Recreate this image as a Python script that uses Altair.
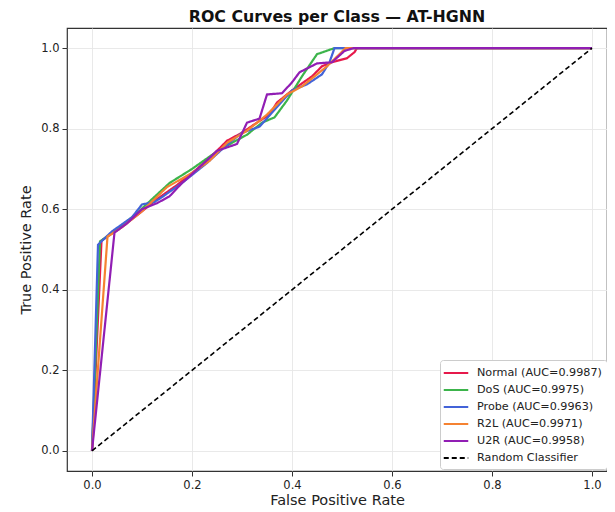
import altair as alt
import pandas as pd

# ---- data ----
classes = ["Normal", "DoS", "Probe", "R2L", "U2R"]
auc = [0.9987, 0.9975, 0.9963, 0.9971, 0.9958]
colors = ["#e6194b", "#3cb44b", "#4363d8", "#f58231", "#911eb4"]

normal_fpr = [0, 0.019, 0.05, 0.09, 0.13, 0.17, 0.21, 0.25, 0.27, 0.30, 0.33, 0.355, 0.37, 0.40, 0.44, 0.46, 0.48, 0.51, 0.525, 0.53, 1.0]
normal_tpr = [0, 0.522, 0.548, 0.585, 0.625, 0.66, 0.70, 0.745, 0.77, 0.79, 0.815, 0.835, 0.865, 0.895, 0.93, 0.955, 0.965, 0.975, 0.99, 1.0, 1.0]

dos_fpr = [0, 0.016, 0.05, 0.09, 0.12, 0.155, 0.20, 0.24, 0.28, 0.31, 0.34, 0.365, 0.39, 0.42, 0.45, 0.485, 1.0]
dos_tpr = [0, 0.52, 0.55, 0.59, 0.625, 0.665, 0.70, 0.735, 0.765, 0.785, 0.815, 0.828, 0.87, 0.93, 0.985, 1.0, 1.0]

probe_fpr = [0, 0.012, 0.04, 0.08, 0.10, 0.125, 0.14, 0.18, 0.23, 0.27, 0.30, 0.335, 0.36, 0.40, 0.43, 0.46, 0.475, 0.485, 0.51, 1.0]
probe_tpr = [0, 0.512, 0.545, 0.58, 0.612, 0.618, 0.63, 0.665, 0.715, 0.76, 0.79, 0.805, 0.84, 0.895, 0.91, 0.935, 0.965, 1.0, 1.0, 1.0]

r2l_fpr = [0, 0.031, 0.06, 0.10, 0.15, 0.20, 0.235, 0.27, 0.31, 0.35, 0.39, 0.42, 0.44, 0.47, 0.495, 0.507, 1.0]
r2l_tpr = [0, 0.532, 0.555, 0.595, 0.655, 0.69, 0.72, 0.765, 0.795, 0.835, 0.885, 0.905, 0.925, 0.955, 0.985, 1.0, 1.0]

u2r_fpr = [0, 0.045, 0.07, 0.10, 0.13, 0.155, 0.18, 0.22, 0.25, 0.29, 0.31, 0.335, 0.35, 0.38, 0.40, 0.415, 0.45, 0.48, 0.505, 0.523, 1.0]
u2r_tpr = [0, 0.542, 0.565, 0.6, 0.615, 0.632, 0.665, 0.71, 0.745, 0.762, 0.815, 0.825, 0.885, 0.888, 0.915, 0.94, 0.962, 0.965, 0.993, 1.0, 1.0]

random_fpr = [0.0, 1.0]
random_tpr = [0.0, 1.0]

tick_values = [0.0, 0.2, 0.4, 0.6, 0.8, 1.0]

# ---- build table ----
series_fpr = [normal_fpr, dos_fpr, probe_fpr, r2l_fpr, u2r_fpr]
series_tpr = [normal_tpr, dos_tpr, probe_tpr, r2l_tpr, u2r_tpr]
labels = [f"{c} (AUC={a:.4f})" for c, a in zip(classes, auc)]
rand_label = "Random Classifier"

rows = []
for lab, fx, ty in zip(labels, series_fpr, series_tpr):
    for i, (a, b) in enumerate(zip(fx, ty)):
        rows.append({"series": lab, "fpr": a, "tpr": b, "idx": i})
df = pd.DataFrame(rows)
df_rand = pd.DataFrame({"series": rand_label, "fpr": random_fpr, "tpr": random_tpr, "idx": [0, 1]})

domain = labels + [rand_label]
color_scale = alt.Scale(domain=domain, range=colors + ["#000000"])
dash_scale = alt.Scale(domain=domain, range=[[1, 0]] * 5 + [[5, 3]])

legend = alt.Legend(
    title=None, orient="none", legendX=373, legendY=332,
    symbolType="M-1.75,0L1.75,0", symbolSize=196, symbolStrokeWidth=2,
    symbolOffset=3, labelOffset=13,
    labelFontSize=11.2, labelFont="DejaVu Sans", labelColor="#222",
    rowPadding=3, padding=5, fillColor="white", strokeColor="#cccccc",
    cornerRadius=3, labelLimit=300,
)

x_enc = alt.X("fpr:Q", scale=alt.Scale(domain=[-0.05, 1.03], nice=False, zero=False),
              axis=alt.Axis(values=tick_values, format=".1f", title="False Positive Rate"))
y_enc = alt.Y("tpr:Q", scale=alt.Scale(domain=[-0.05, 1.05], nice=False, zero=False),
              axis=alt.Axis(values=tick_values, format=".1f", title="True Positive Rate"))

lines = alt.Chart(df).mark_line(strokeWidth=2.2, clip=True).encode(
    x=x_enc, y=y_enc,
    color=alt.Color("series:N", scale=color_scale, legend=legend),
    strokeDash=alt.StrokeDash("series:N", scale=dash_scale, legend=legend),
    order=alt.Order("idx:Q"),
)

diag = alt.Chart(df_rand).mark_line(strokeWidth=1.6).encode(
    x=x_enc, y=y_enc,
    color=alt.Color("series:N", scale=color_scale, legend=legend),
    strokeDash=alt.StrokeDash("series:N", scale=dash_scale, legend=legend),
    order=alt.Order("idx:Q"),
)

chart = alt.layer(lines, diag).properties(
    width=540, height=443,
    title=alt.TitleParams("ROC Curves per Class — AT-HGNN", fontSize=15.8, fontWeight="bold",
                          font="DejaVu Sans", anchor="middle", offset=2, color="#111"),
    autosize=alt.AutoSizeParams(type="none"),
    padding={"left": 59, "top": 20, "right": 0, "bottom": 41},
).configure_view(
    stroke="#333333", strokeWidth=1.2,
).configure_axis(
    domain=False, grid=True, gridColor="#e6e6e6", gridWidth=0.9,
    ticks=True, tickSize=5, tickColor="#333333", tickWidth=1,
    labelFont="DejaVu Sans", labelFontSize=11.5, labelColor="#222",
    titleFont="DejaVu Sans", titleFontSize=14.5, titleFontWeight="normal", titleColor="#222",
    labelPadding=3,
).configure_axisX(titlePadding=3).configure_axisY(titlePadding=7)

chart.save("out.html", embed_options={"renderer": "svg", "actions": False})
